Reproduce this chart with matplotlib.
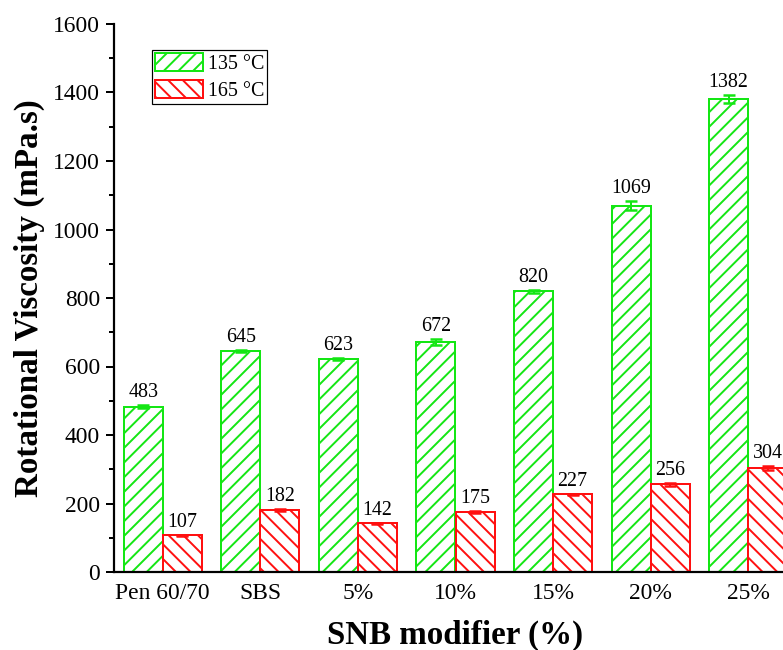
import numpy as np
import matplotlib
matplotlib.use("Agg")
import matplotlib.pyplot as plt

# Rotational viscosity of binders at two test temperatures
samples = ["Pen 60/70", "SBS", "5%", "10%", "15%", "20%", "25%"]
visc_135 = [483, 645, 623, 672, 820, 1069, 1382]
visc_165 = [107, 182, 142, 175, 227, 256, 304]
err_135 = [4, 4, 3, 9, 4, 13, 12]
err_165 = [2, 3, 2, 3, 2, 4, 5]

DPI = 88
plt.rcParams["font.family"] = ["Liberation Serif", "DejaVu Serif"]
plt.rcParams["hatch.linewidth"] = 1.6


def px(v):
    """Convert a size in pixels to points."""
    return v * 72.0 / DPI


fig = plt.figure(figsize=(783 / DPI, 650 / DPI), dpi=DPI)
ax = fig.add_axes([114 / 783, 78 / 650, 683 / 783, 548 / 650])

green = "#14E614"
red = "#FF1010"
x = np.arange(len(samples))
w = 0.4

ax.bar(x - w / 2, visc_135, w, facecolor="white", edgecolor=green,
       linewidth=px(2), hatch="//", label="135 °C")
ax.bar(x + w / 2, visc_165, w, facecolor="white", edgecolor=red,
       linewidth=px(2), hatch="\\\\", label="165 °C")
ax.errorbar(x - w / 2, visc_135, yerr=err_135, fmt="none", ecolor=green,
            elinewidth=px(2), capsize=px(6), capthick=px(2.5))
ax.errorbar(x + w / 2, visc_165, yerr=err_165, fmt="none", ecolor=red,
            elinewidth=px(2), capsize=px(6), capthick=px(2.5))

for xi, v, e in zip(x - w / 2, visc_135, err_135):
    ax.annotate(f"{v}", (xi, v + e), xytext=(0, px(3)), textcoords="offset points",
                ha="center", va="bottom", fontsize=px(20))
for xi, v, e in zip(x + w / 2, visc_165, err_165):
    ax.annotate(f"{v}", (xi, v + e), xytext=(0, px(3)), textcoords="offset points",
                ha="center", va="bottom", fontsize=px(20))

ax.set_xlim(-0.5, 6.5)
ax.set_ylim(0, 1600)
ax.set_yticks(np.arange(0, 1601, 200))
ax.set_yticks(np.arange(100, 1600, 200), minor=True)
ax.set_xticks(x)
ax.set_xticklabels(samples)
ax.tick_params(axis="y", which="major", direction="out", length=px(8),
               width=px(2), labelsize=px(23.5), pad=px(6))
ax.tick_params(axis="y", which="minor", direction="out", length=px(5), width=px(2))
ax.tick_params(axis="x", length=0, labelsize=px(23.5), pad=px(11))

for side in ("top", "right"):
    ax.spines[side].set_visible(False)
for side in ("left", "bottom"):
    ax.spines[side].set_linewidth(px(2.2))

ax.set_ylabel("Rotational Viscosity (mPa.s)", fontsize=px(33), fontweight="bold",
              labelpad=px(8))
ax.set_xlabel("SNB modifier (%)", fontsize=px(33), fontweight="bold", labelpad=px(16))

leg = ax.legend(loc="upper left", bbox_to_anchor=(0.0556, 0.9526), fontsize=px(20),
                frameon=True, fancybox=False, edgecolor="black", framealpha=1,
                borderpad=0.15, labelspacing=0.3, handlelength=2.4,
                handleheight=1.0, handletextpad=0.25, borderaxespad=0)
leg.get_frame().set_linewidth(px(1.2))

fig.savefig("out.png", dpi=DPI)
